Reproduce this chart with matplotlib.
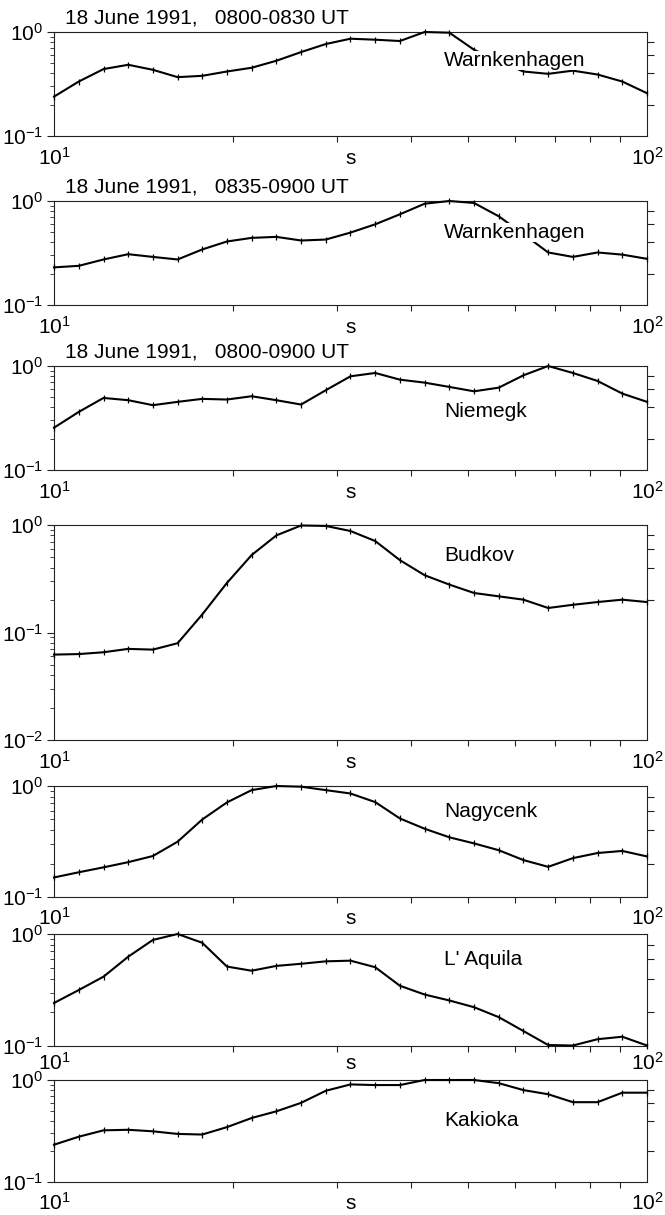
import matplotlib
matplotlib.use("Agg")
import matplotlib.pyplot as plt
from matplotlib.patches import Rectangle
from matplotlib.ticker import FixedLocator, LogLocator, NullFormatter, NullLocator

plt.rcParams['font.family'] = ['Liberation Sans', 'DejaVu Sans']
plt.rcParams['mathtext.fontset'] = 'custom'
plt.rcParams['mathtext.rm'] = 'Liberation Sans'
plt.rcParams['mathtext.it'] = 'Liberation Sans:italic'
plt.rcParams['mathtext.bf'] = 'Liberation Sans:bold'
plt.rcParams['axes.unicode_minus'] = False

# Period (s) of each spectral estimate
periods = [10.00, 11.01, 12.12, 13.34, 14.68, 16.16, 17.78, 19.57, 21.54,
           23.71, 26.10, 28.73, 31.62, 34.81, 38.31, 42.17, 46.42, 51.09,
           56.23, 61.90, 68.13, 74.99, 82.54, 90.85, 100.0]

# Normalised spectral amplitudes
warnkenhagen_a = [0.239, 0.334, 0.440, 0.484, 0.433, 0.368, 0.379, 0.417, 0.453,
                  0.529, 0.641, 0.766, 0.862, 0.843, 0.819, 1.000, 0.985, 0.675,
                  0.520, 0.417, 0.396, 0.425, 0.390, 0.334, 0.258]
warnkenhagen_b = [0.230, 0.238, 0.274, 0.308, 0.290, 0.274, 0.342, 0.408, 0.442,
                  0.452, 0.417, 0.426, 0.497, 0.597, 0.745, 0.942, 1.000, 0.957,
                  0.713, 0.480, 0.320, 0.290, 0.320, 0.305, 0.278]
niemegk = [0.255, 0.362, 0.493, 0.469, 0.420, 0.452, 0.483, 0.476, 0.512,
           0.469, 0.426, 0.585, 0.796, 0.857, 0.739, 0.692, 0.629, 0.571,
           0.619, 0.814, 1.000, 0.857, 0.718, 0.543, 0.452]
budkov = [0.0623, 0.0630, 0.0655, 0.0704, 0.0693, 0.0795, 0.147, 0.289, 0.525,
          0.800, 0.990, 0.980, 0.879, 0.709, 0.471, 0.341, 0.279, 0.233,
          0.217, 0.202, 0.169, 0.181, 0.192, 0.202, 0.192]
nagycenk = [0.150, 0.167, 0.185, 0.206, 0.234, 0.315, 0.499, 0.711, 0.918,
            1.000, 0.986, 0.918, 0.856, 0.716, 0.510, 0.412, 0.345, 0.304,
            0.264, 0.215, 0.187, 0.224, 0.249, 0.260, 0.232]
laquila = [0.242, 0.316, 0.416, 0.627, 0.885, 1.000, 0.835, 0.512, 0.470,
           0.519, 0.542, 0.570, 0.578, 0.505, 0.345, 0.288, 0.255, 0.222,
           0.181, 0.136, 0.102, 0.101, 0.115, 0.121, 0.101]
kakioka = [0.232, 0.278, 0.321, 0.325, 0.314, 0.296, 0.292, 0.345, 0.424,
           0.493, 0.597, 0.784, 0.905, 0.892, 0.892, 1.000, 1.000, 1.000,
           0.931, 0.796, 0.725, 0.606, 0.606, 0.751, 0.751]

stations = ["Warnkenhagen", "Warnkenhagen", "Niemegk", "Budkov",
            "Nagycenk", "L' Aquila", "Kakioka"]
titles = ["18 June 1991,   0800-0830 UT", "18 June 1991,   0835-0900 UT",
          "18 June 1991,   0800-0900 UT", None, None, None, None]
series = [warnkenhagen_a, warnkenhagen_b, niemegk, budkov,
          nagycenk, laquila, kakioka]
y_lower = [0.1, 0.1, 0.1, 0.01, 0.1, 0.1, 0.1]
right_ticks = [0.2, 0.4, 0.6, 0.8]

# panel frames in pixels (top, bottom), station-label baseline (axes fraction)
# and the gap (pt) between the bottom spine and the period labels
W, H = 665, 1215
frames = [(32, 136), (201, 305), (366, 470), (525, 740),
          (786, 897), (934, 1046), (1080, 1182)]
label_base = [0.67, 0.64, 0.51, 0.834, 0.72, 0.725, 0.55]
xpads = [8, 8, 8, 8, 7, 4, 7]
x0, x1 = 54, 647

FS = 15
EM = FS * 100 / 72.0          # font size in pixels
fig = plt.figure(figsize=(W / 100, H / 100), dpi=100)
renderer = fig.canvas.get_renderer()

for i, (top, bot) in enumerate(frames):
    ax = fig.add_axes([x0 / W, 1 - bot / H, (x1 - x0) / W, (bot - top) / H])
    ax.set_xscale('log')
    ax.set_yscale('log')
    ax.set_xlim(10, 100)
    ax.set_ylim(y_lower[i], 1.0)

    ax.plot(periods, series[i], color='black', lw=1.5, marker='|', ms=5,
            mew=0.9, clip_on=False, zorder=3)

    for sp in ax.spines.values():
        sp.set_linewidth(0.8)
        sp.set_color('#222222')

    ax.yaxis.set_major_locator(LogLocator(base=10, numticks=10))
    ax.yaxis.set_minor_locator(LogLocator(base=10, subs=range(2, 10), numticks=10))
    ax.yaxis.set_minor_formatter(NullFormatter())
    ax.xaxis.set_major_locator(FixedLocator([10, 100]))
    ax.xaxis.set_minor_locator(FixedLocator([20, 30, 40, 50, 60, 70, 80, 90]))
    ax.xaxis.set_minor_formatter(NullFormatter())
    ax.tick_params(which='both', direction='out', top=False, right=False,
                   labelsize=FS, color='#222222')
    ax.tick_params(axis='y', which='major', length=5, width=0.8, pad=3)
    ax.tick_params(axis='y', which='minor', length=3, width=0.6)
    ax.tick_params(axis='x', which='major', length=0, pad=xpads[i])
    ax.tick_params(axis='x', which='minor', length=4, width=0.8)

    # right-hand linear ticks
    rx = ax.twinx()
    rx.set_yscale('log')
    rx.set_ylim(y_lower[i], 1.0)
    rx.yaxis.set_major_locator(FixedLocator(right_ticks))
    rx.yaxis.set_minor_locator(NullLocator())
    rx.yaxis.set_major_formatter(NullFormatter())
    rx.tick_params(axis='y', direction='out', length=5, width=0.8, color='#222222')
    for sp in rx.spines.values():
        sp.set_visible(False)

    # axis unit placed on the period-label row
    ax.annotate('s', xy=(0.5, 0), xycoords='axes fraction',
                xytext=(0, -(xpads[i] + 12.5)), textcoords='offset points',
                ha='center', va='baseline', fontsize=FS)

    # station name on a white patch that covers only the glyph area
    lx = 0.658
    name = ax.text(lx, label_base[i], stations[i], transform=ax.transAxes,
                   ha='left', va='baseline', fontsize=FS, zorder=5)
    width_px = name.get_window_extent(renderer).width
    ax_w = x1 - x0
    ax_h = bot - top
    ax.add_patch(Rectangle((lx - 3 / ax_w, label_base[i] - 0.18 * EM / ax_h),
                           (width_px + 6) / ax_w, 0.93 * EM / ax_h,
                           transform=ax.transAxes, facecolor='white',
                           edgecolor='none', zorder=4))

    if titles[i]:
        ax.annotate(titles[i], xy=(0.0185, 1), xycoords='axes fraction',
                    xytext=(0, 6), textcoords='offset points',
                    ha='left', va='baseline', fontsize=FS)

fig.savefig('out.png', dpi=100, facecolor='white')
